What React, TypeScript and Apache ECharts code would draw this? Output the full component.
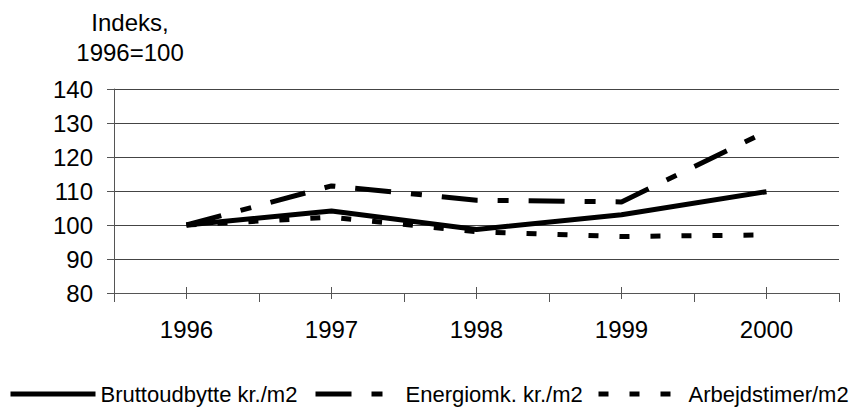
import React, { useEffect, useRef } from "react";
import * as echarts from "echarts";

const years = ["1996", "1997", "1998", "1999", "2000"];
const bruttoudbytte = [100, 104.1, 98.7, 103, 109.8];
const energiomk = [100, 111.5, 107.3, 106.8, 127.5];
const arbejdstimer = [100, 102.3, 98, 96.6, 97.1];
const seriesNames = ["Bruttoudbytte kr./m2", "Energiomk. kr./m2", "Arbejdstimer/m2"];
const titleLines = ["Indeks,", "1996=100"];

const FONT = "'Liberation Sans', Arial, sans-serif";

export default function App() {
  const ref = useRef<HTMLDivElement>(null);
  useEffect(() => {
    if (!ref.current) return;
    const chart = echarts.init(ref.current, null, { renderer: "svg" });
    const legendBase = {
      top: 383,
      itemWidth: 85,
      itemHeight: 20,
      itemStyle: { color: "transparent", borderWidth: 0, opacity: 0 },
      lineStyle: { width: 5, type: "inherit", color: "#000", cap: "butt" },
      textStyle: { fontFamily: FONT, fontSize: 22, color: "#000", lineHeight: 22 },
      padding: 0,
    };
    chart.setOption({
      animation: false,
      backgroundColor: "#fff",
      textStyle: { fontFamily: FONT },
      grid: { left: 114, right: 13, top: 89, bottom: 114, containLabel: false },
      graphic: [
        {
          type: "text",
          x: 130,
          y: 22,
          style: { text: titleLines[0], font: `24px ${FONT}`, fill: "#000", textAlign: "center", textVerticalAlign: "middle" },
        },
        {
          type: "text",
          x: 130,
          y: 52,
          style: { text: titleLines[1], font: `24px ${FONT}`, fill: "#000", textAlign: "center", textVerticalAlign: "middle" },
        },
      ],
      legend: [
        { ...legendBase, left: 8, data: [seriesNames[0]] },
        { ...legendBase, left: 313, data: [seriesNames[1]] },
        { ...legendBase, left: 596, data: [seriesNames[2]] },
      ],
      xAxis: [
        {
          type: "category",
          data: years,
          boundaryGap: true,
          position: "bottom",
          axisLine: { lineStyle: { color: "#555", width: 1 } },
          axisTick: { show: true, length: 9, lineStyle: { color: "#555" } },
          axisLabel: { fontSize: 24, color: "#000", margin: 24, fontFamily: FONT },
          splitLine: { show: false },
        },
        {
          type: "category",
          data: years,
          boundaryGap: true,
          position: "bottom",
          axisLine: { show: false },
          axisTick: { show: true, alignWithLabel: true, inside: true, length: 6, lineStyle: { color: "#555" } },
          axisLabel: { show: false },
          splitLine: { show: false },
        },
        {
          type: "category",
          data: years,
          boundaryGap: true,
          position: "bottom",
          axisLine: { show: false },
          axisTick: { show: true, alignWithLabel: true, inside: false, length: 6, lineStyle: { color: "#555" } },
          axisLabel: { show: false },
          splitLine: { show: false },
        },
      ],
      yAxis: {
        type: "value",
        min: 80,
        max: 140,
        interval: 10,
        axisLine: { show: true, lineStyle: { color: "#555", width: 1 } },
        axisTick: { show: true, length: 7, lineStyle: { color: "#555" } },
        axisLabel: { fontSize: 24, color: "#000", margin: 21, fontFamily: FONT },
        splitLine: { show: true, lineStyle: { color: "#444", width: 1 } },
      },
      series: [
        {
          name: seriesNames[0],
          type: "line",
          data: bruttoudbytte,
          symbol: "none",
          color: "#000",
          lineStyle: { color: "#000", width: 5, type: "solid" },
          z: 5,
        },
        {
          name: seriesNames[1],
          type: "line",
          data: energiomk,
          symbol: "none",
          color: "#000",
          lineStyle: { color: "#000", width: 5, type: [36, 20, 11, 20], cap: "butt" },
          z: 4,
        },
        {
          name: seriesNames[2],
          type: "line",
          data: arbejdstimer,
          symbol: "none",
          color: "#000",
          lineStyle: { color: "#000", width: 5, type: [10, 21], cap: "butt" },
          z: 3,
        },
      ],
    });
    return () => chart.dispose();
  }, []);
  return <div ref={ref} style={{ width: 852, height: 407, position: "absolute", left: 0, top: 0 }} />;
}
